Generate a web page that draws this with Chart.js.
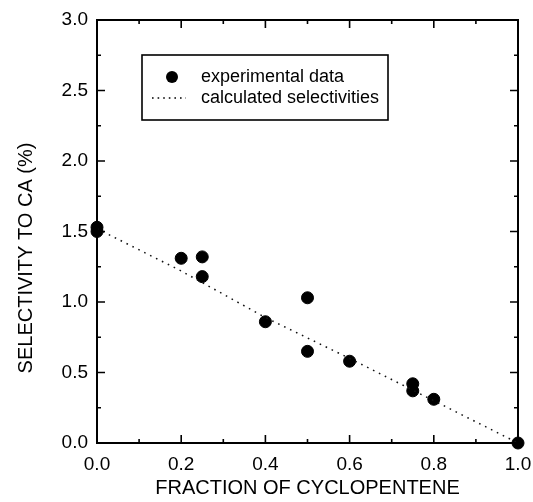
<!DOCTYPE html>
<html>
<head>
<meta charset="utf-8">
<script src="https://cdn.jsdelivr.net/npm/chart.js@4/dist/chart.umd.min.js"></script>
<style>
  html, body { margin: 0; padding: 0; background: #fff; }
  #wrap { width: 533px; height: 502px; }
</style>
</head>
<body>
<div id="wrap"><canvas id="selectivityGraph" width="533" height="502"></canvas></div>
<script>
// experimental points
var expFraction = [0.0, 0.0, 0.2, 0.25, 0.25, 0.4, 0.5, 0.5, 0.6, 0.75, 0.75, 0.8, 1.0];
var expSelectivity = [1.53, 1.50, 1.31, 1.32, 1.18, 0.86, 1.03, 0.65, 0.58, 0.42, 0.37, 0.31, 0.0];

// calculated line
var calcFraction = [0.0, 0.2, 0.4, 0.6, 0.8, 1.0];
var calcSelectivity = [1.52, 1.22, 0.89, 0.60, 0.30, 0.0];

var xTicks = [0.0, 0.2, 0.4, 0.6, 0.8, 1.0];
var yTicks = [0.0, 0.5, 1.0, 1.5, 2.0, 2.5, 3.0];
var legendLabels = ["experimental data", "calculated selectivities"];
var xTitle = "FRACTION OF CYCLOPENTENE";
var yTitle = "SELECTIVITY TO CA (%)";

var FONT = "'Liberation Sans', Arial, sans-serif";

function toPoints(xs, ys) {
  var pts = [];
  for (var i = 0; i < xs.length; i++) {
    pts.push({ x: xs[i], y: ys[i] });
  }
  return pts;
}

// frame, inward ticks on all four sides, axis titles and the boxed legend
var framePlugin = {
  id: 'frame',
  afterDatasetsDraw: function(chart) {
    var ctx = chart.ctx;
    var a = chart.chartArea;
    var xs = chart.scales.x, ys = chart.scales.y;
    ctx.save();
    ctx.strokeStyle = '#000';
    ctx.lineWidth = 2;
    ctx.strokeRect(a.left, a.top, a.right - a.left, a.bottom - a.top);

    ctx.lineWidth = 1.6;
    ctx.beginPath();
    for (var v = 0; v <= 10; v++) {
      var px = xs.getPixelForValue(v / 10);
      var len = (v % 2 === 0) ? 8 : 4;
      ctx.moveTo(px, a.bottom); ctx.lineTo(px, a.bottom - len);
      ctx.moveTo(px, a.top); ctx.lineTo(px, a.top + len);
    }
    for (var w = 0; w <= 12; w++) {
      var py = ys.getPixelForValue(w * 0.25);
      var l2 = (w % 2 === 0) ? 8 : 4;
      ctx.moveTo(a.left, py); ctx.lineTo(a.left + l2, py);
      ctx.moveTo(a.right, py); ctx.lineTo(a.right - l2, py);
    }
    ctx.stroke();

    // axis titles
    ctx.fillStyle = '#000';
    ctx.font = '20px ' + FONT;
    ctx.textAlign = 'center';
    ctx.textBaseline = 'middle';
    ctx.fillText(xTitle, (a.left + a.right) / 2, 488);
    ctx.save();
    ctx.translate(26, 258);
    ctx.rotate(-Math.PI / 2);
    ctx.fillText(yTitle, 0, 0);
    ctx.restore();

    // legend box
    var bx = 142, by = 55, bw = 246, bh = 65;
    ctx.lineWidth = 1.6;
    ctx.strokeRect(bx, by, bw, bh);
    ctx.beginPath();
    ctx.arc(bx + 30, by + 22, 6, 0, Math.PI * 2);
    ctx.fill();
    ctx.setLineDash([1.6, 4]);
    ctx.lineWidth = 1.4;
    ctx.beginPath();
    ctx.moveTo(bx + 10, by + 43);
    ctx.lineTo(bx + 44, by + 43);
    ctx.stroke();
    ctx.setLineDash([]);
    ctx.font = '18px ' + FONT;
    ctx.textAlign = 'left';
    ctx.fillText(legendLabels[0], bx + 59, by + 22);
    ctx.fillText(legendLabels[1], bx + 59, by + 43);
    ctx.restore();
  }
};

var ctx = document.getElementById('selectivityGraph').getContext('2d');

var chart = new Chart(ctx, {
  type: 'scatter',
  data: {
    datasets: [
      {
        label: legendLabels[1],
        type: 'line',
        data: toPoints(calcFraction, calcSelectivity),
        borderColor: '#111',
        borderWidth: 1.5,
        borderDash: [1.6, 5],
        pointRadius: 0,
        fill: false,
        tension: 0
      },
      {
        label: legendLabels[0],
        data: toPoints(expFraction, expSelectivity),
        backgroundColor: '#000',
        borderColor: '#000',
        pointRadius: 6,
        pointHoverRadius: 6,
        clip: false
      }
    ]
  },
  options: {
    responsive: false,
    animation: false,
    layout: { padding: { top: 20, right: 15, left: 0, bottom: 0 } },
    plugins: {
      legend: { display: false },
      tooltip: { enabled: false }
    },
    scales: {
      x: {
        type: 'linear',
        min: 0, max: 1,
        grid: { display: false, drawTicks: false },
        border: { display: false },
        afterBuildTicks: function(scale) {
          scale.ticks = xTicks.map(function(v) { return { value: v }; });
        },
        afterFit: function(scale) {
          scale.height = 59;
          scale.paddingLeft = 0;
          scale.paddingRight = 0;
        },
        ticks: {
          color: '#000',
          padding: 10,
          maxRotation: 0,
          font: { family: FONT, size: 19 },
          callback: function(v) { return v.toFixed(1); }
        },
        title: { display: false }
      },
      y: {
        type: 'linear',
        min: 0, max: 3,
        grid: { display: false, drawTicks: false },
        border: { display: false },
        afterBuildTicks: function(scale) {
          scale.ticks = yTicks.map(function(v) { return { value: v }; });
        },
        afterFit: function(scale) {
          scale.width = 97;
          scale.paddingTop = 0;
          scale.paddingBottom = 0;
        },
        ticks: {
          color: '#000',
          padding: 9,
          font: { family: FONT, size: 19 },
          callback: function(v) { return v.toFixed(1); }
        },
        title: { display: false }
      }
    }
  },
  plugins: [framePlugin]
});
</script>
</body>
</html>
